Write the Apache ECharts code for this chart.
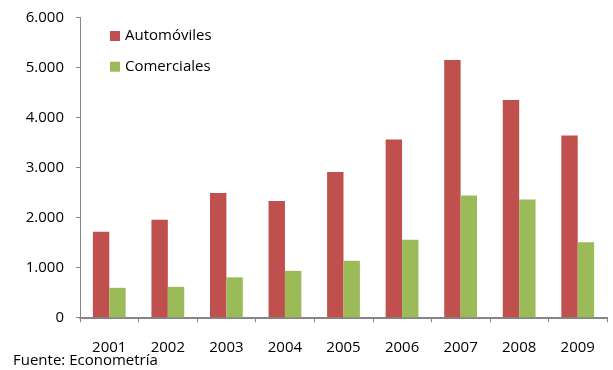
<!DOCTYPE html>
<html>
<head>
<meta charset="utf-8">
<script src="https://cdn.jsdelivr.net/npm/echarts@6/dist/echarts.min.js"></script>
<style>
  html, body { margin: 0; padding: 0; background: #ffffff; }
  #chart { width: 613px; height: 370px; }
</style>
</head>
<body>
<div id="chart"></div>
<script>
// Vehicle sales by year
const years = ['2001', '2002', '2003', '2004', '2005', '2006', '2007', '2008', '2009'];
const automoviles = [1710, 1950, 2490, 2330, 2910, 3560, 5150, 4350, 3640];
const comerciales = [590, 610, 800, 930, 1130, 1550, 2440, 2360, 1500];
const yTicks = [0, 1000, 2000, 3000, 4000, 5000, 6000];

const FONT = '"Open Sans", "Noto Sans", sans-serif';
const AXIS_GRAY = '#868686';

function fmtThousands(v) {
  return String(v).replace(/\B(?=(\d{3})+(?!\d))/g, '.');
}

const chart = echarts.init(document.getElementById('chart'), null, { renderer: 'canvas' });

chart.setOption({
  animation: false,
  backgroundColor: '#ffffff',
  grid: { left: 80, right: 6, top: 17.5, bottom: 52.7, containLabel: false },
  legend: {
    orient: 'vertical',
    left: 110,
    top: 28,
    padding: 0,
    itemWidth: 10,
    itemHeight: 10,
    itemGap: 14.7,
    icon: 'rect',
    textStyle: { fontFamily: FONT, fontSize: 15, color: '#000000', lineHeight: 16, padding: [0, 0, 0, 0] },
    data: ['Automóviles', 'Comerciales']
  },
  xAxis: {
    type: 'category',
    data: years,
    boundaryGap: true,
    axisLine: { lineStyle: { color: AXIS_GRAY, width: 2 } },
    axisTick: { show: true, alignWithLabel: false, length: 5, lineStyle: { color: AXIS_GRAY, width: 1 } },
    axisLabel: { fontFamily: FONT, fontSize: 15, color: '#000000', margin: 23, lineHeight: 15 },
    splitLine: { show: false }
  },
  yAxis: {
    type: 'value',
    min: yTicks[0],
    max: yTicks[yTicks.length - 1],
    interval: yTicks[1] - yTicks[0],
    axisLine: { show: true, lineStyle: { color: AXIS_GRAY, width: 1 } },
    axisTick: { show: true, length: 4, lineStyle: { color: AXIS_GRAY } },
    axisLabel: { fontFamily: FONT, fontSize: 15, color: '#000000', margin: 16, formatter: fmtThousands },
    splitLine: { show: false }
  },
  series: [
    {
      name: 'Automóviles',
      type: 'bar',
      data: automoviles,
      barGap: '0%',
      barCategoryGap: '44%',
      itemStyle: { color: '#C0504D' }
    },
    {
      name: 'Comerciales',
      type: 'bar',
      data: comerciales,
      barGap: '0%',
      barCategoryGap: '44%',
      itemStyle: { color: '#9BBB59' }
    }
  ],
  graphic: [
    {
      type: 'text',
      left: 13,
      top: 353,
      style: { text: 'Fuente: Econometría', fontFamily: FONT, fontSize: 15, fill: '#000000' }
    }
  ]
});
</script>
</body>
</html>
